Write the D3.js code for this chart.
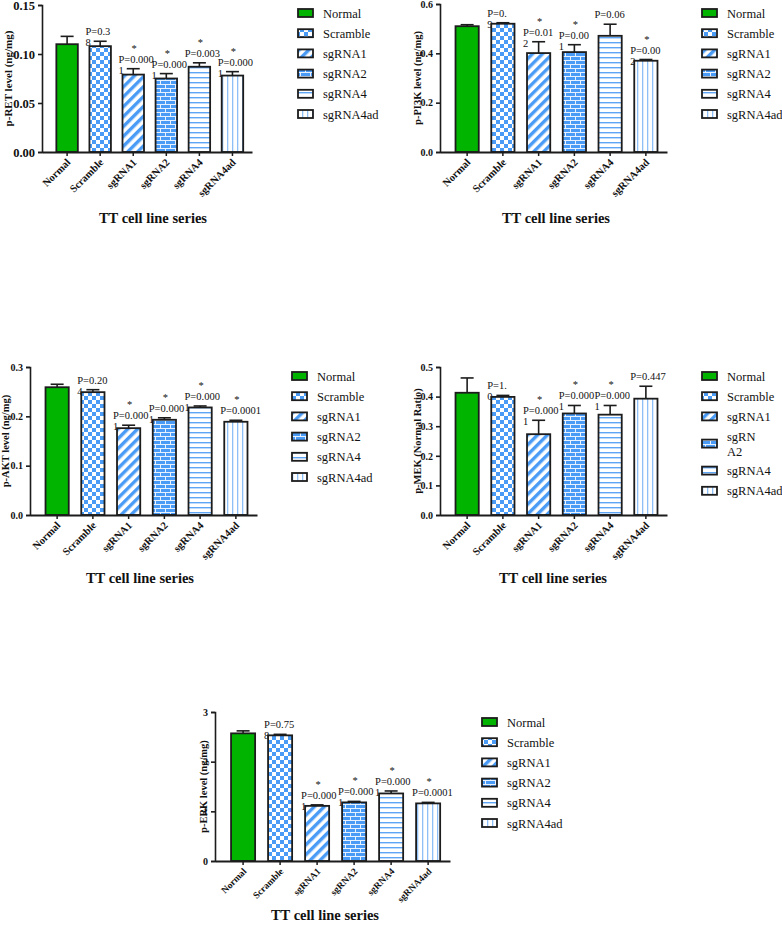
<!DOCTYPE html>
<html>
<head>
<meta charset="utf-8">
<script src="https://cdn.jsdelivr.net/npm/d3@7"></script>
<style>
  body { margin: 0; background: #fff; }
  svg { display: block; }
  svg text { font-family: "Liberation Serif", "Times New Roman", Times, serif !important; fill: #111; }
</style>
</head>
<body>
<svg id="chart" width="782" height="927" font-family="Liberation Serif, serif"></svg>
<script>
// categories shared by all five panels
const categories = ["Normal", "Scramble", "sgRNA1", "sgRNA2", "sgRNA4", "sgRNA4ad"];

// p-RET
const retValues = [0.110, 0.108, 0.079, 0.075, 0.087, 0.078];
const retErrors = [0.008, 0.005, 0.006, 0.005, 0.004, 0.004];
const retNotes = ["", "P=0.3\n8", "*\nP=0.000\n1", "*\nP=0.000\n1", "*\nP=0.003", "*\nP=0.000\n1"];
const retTicks = [0, 0.05, 0.10, 0.15];

// p-PI3K
const pi3kValues = [0.510, 0.520, 0.401, 0.405, 0.471, 0.370];
const pi3kErrors = [0.006, 0.004, 0.046, 0.030, 0.047, 0.005];
const pi3kNotes = ["", "P=0.\n9", "*\nP=0.01\n2", "*\nP=0.00\n1", "P=0.06", "*\nP=0.00\n2"];
const pi3kTicks = [0, 0.2, 0.4, 0.6];

// p-AKT
const aktValues = [0.259, 0.249, 0.176, 0.193, 0.218, 0.189];
const aktErrors = [0.006, 0.005, 0.006, 0.004, 0.003, 0.003];
const aktNotes = ["", "P=0.20\n4", "*\nP=0.000\n1", "*\nP=0.000\n1", "*\nP=0.000\n1", "*\nP=0.0001"];
const aktTicks = [0, 0.1, 0.2, 0.3];

// p-MEK
const mekValues = [0.413, 0.399, 0.273, 0.343, 0.339, 0.393];
const mekErrors = [0.050, 0.005, 0.047, 0.027, 0.031, 0.042];
const mekNotes = ["", "P=1.\n0", "*\nP=0.000\n1", "*\nP=0.000\n1", "*\nP=0.000\n1", "P=0.447"];
const mekTicks = [0, 0.1, 0.2, 0.3, 0.4, 0.5];

// p-ERK
const erkValues = [2.57, 2.53, 1.11, 1.18, 1.36, 1.16];
const erkErrors = [0.05, 0.02, 0.02, 0.02, 0.05, 0.02];
const erkNotes = ["", "P=0.75\n8", "*\nP=0.000\n1", "*\nP=0.000\n1", "*\nP=0.000\n1", "*\nP=0.0001"];
const erkTicks = [0, 1, 2, 3];

const svg = d3.select("#chart");
const defs = svg.append("defs");
const blue = "#4a9bf5";
const lightBlue = "#8ec0f7";
const serif = "Liberation Serif, Times New Roman, serif";

// fill patterns
const chk = defs.append("pattern").attr("id", "pChk").attr("patternUnits", "userSpaceOnUse")
  .attr("width", 8).attr("height", 8);
chk.append("rect").attr("width", 8).attr("height", 8).attr("fill", "#fff");
chk.append("rect").attr("width", 4).attr("height", 4).attr("fill", blue);
chk.append("rect").attr("x", 4).attr("y", 4).attr("width", 4).attr("height", 4).attr("fill", blue);

const diag = defs.append("pattern").attr("id", "pDiag").attr("patternUnits", "userSpaceOnUse")
  .attr("width", 7).attr("height", 7).attr("patternTransform", "rotate(45)");
diag.append("rect").attr("width", 7).attr("height", 7).attr("fill", "#fff");
diag.append("rect").attr("width", 3.4).attr("height", 7).attr("fill", blue);

const brick = defs.append("pattern").attr("id", "pBrick").attr("patternUnits", "userSpaceOnUse")
  .attr("width", 10).attr("height", 8);
brick.append("rect").attr("width", 10).attr("height", 8).attr("fill", blue);
brick.append("path")
  .attr("d", "M0,0.5H10M0,4.5H10M0.5,0V4.5M5.5,4.5V8")
  .attr("stroke", "#e8f2ff").attr("stroke-width", 1).attr("fill", "none");

const hor = defs.append("pattern").attr("id", "pHor").attr("patternUnits", "userSpaceOnUse")
  .attr("width", 5).attr("height", 5);
hor.append("rect").attr("width", 5).attr("height", 5).attr("fill", "#fff");
hor.append("rect").attr("y", 2).attr("width", 5).attr("height", 1.4).attr("fill", "#5ea6f5");

const ver = defs.append("pattern").attr("id", "pVer").attr("patternUnits", "userSpaceOnUse")
  .attr("width", 5).attr("height", 5);
ver.append("rect").attr("width", 5).attr("height", 5).attr("fill", "#fff");
ver.append("rect").attr("x", 2).attr("width", 1.3).attr("height", 5).attr("fill", lightBlue);

const fills = ["#00b400", "url(#pChk)", "url(#pDiag)", "url(#pBrick)", "url(#pHor)", "url(#pVer)"];
const ink = "#1c1c1c";

function drawPanel(o) {
  const g = svg.append("g").attr("font-family", serif);
  const x = d3.scaleBand().domain(categories).range([o.x0, o.x1])
    .paddingInner(0.35).paddingOuter(0.35).align(0.62);
  const y = d3.scaleLinear().domain([0, o.max]).range([o.yBottom, o.yTop]);

  // annotations (drawn first, bars may cover bits of them)
  categories.forEach((c, i) => {
    if (!o.notes[i]) return;
    const lines = o.notes[i].split("\n");
    const capY = y(o.values[i] + o.errors[i]);
    let star = false;
    if (lines[0] === "*") { star = true; lines.shift(); }
    const left = x(c) - 4;
    if (star) {
      g.append("text").attr("x", x(c) + x.bandwidth() / 2 + 1).attr("y", capY - 17)
        .attr("text-anchor", "middle").attr("font-size", 10.5).text("*");
    }
    lines.forEach((t, k) => {
      g.append("text").attr("x", left).attr("y", capY - 6 + k * 11)
        .attr("font-size", 10.5).text(t);
    });
  });

  // error bars (upper only)
  categories.forEach((c, i) => {
    const cx = x(c) + x.bandwidth() / 2;
    const top = y(o.values[i] + o.errors[i]);
    g.append("line").attr("x1", cx).attr("x2", cx).attr("y1", y(o.values[i])).attr("y2", top)
      .attr("stroke", ink).attr("stroke-width", 1.6);
    g.append("line").attr("x1", cx - 6.5).attr("x2", cx + 6.5).attr("y1", top).attr("y2", top)
      .attr("stroke", ink).attr("stroke-width", 1.6);
  });

  // bars
  g.selectAll("rect.bar").data(categories).enter().append("rect")
    .attr("class", "bar")
    .attr("x", d => x(d))
    .attr("y", (d, i) => y(o.values[i]))
    .attr("width", x.bandwidth())
    .attr("height", (d, i) => o.yBottom - y(o.values[i]))
    .attr("fill", (d, i) => fills[i])
    .attr("stroke", ink).attr("stroke-width", 1.8);

  // y axis
  const ya = g.append("g").attr("transform", `translate(${o.x0},0)`)
    .call(d3.axisLeft(y).tickValues(o.ticks).tickFormat(d3.format(o.fmt)).tickSize(4).tickPadding(3));
  ya.attr("font-family", serif);
  ya.selectAll("path,line").attr("stroke", ink).attr("stroke-width", 1.6);
  ya.selectAll("text").attr("font-weight", "bold")
    .attr("font-size", o.tickSize).attr("fill", "#111");

  // x axis
  const xa = g.append("g").attr("transform", `translate(0,${o.yBottom})`)
    .call(d3.axisBottom(x).tickSize(4).tickSizeOuter(0));
  xa.attr("font-family", serif);
  xa.select("path").attr("stroke", ink).attr("stroke-width", 1.8);
  xa.selectAll("line").attr("stroke", ink).attr("stroke-width", 1.5);
  xa.selectAll("text")
    .attr("font-weight", "bold")
    .attr("font-size", o.labelSize).attr("fill", "#111")
    .attr("text-anchor", "end").attr("dy", null).attr("y", null)
    .attr("transform", "translate(4,11) rotate(-45)");

  // axis titles
  g.append("text")
    .attr("transform", `translate(${o.yTitleX},${(o.yTop + o.yBottom) / 2}) rotate(-90)`)
    .attr("text-anchor", "middle").attr("font-weight", "bold").attr("font-size", o.yTitleSize)
    .text(o.yTitle);
  g.append("text").attr("x", o.xTitleX).attr("y", o.xTitleY)
    .attr("text-anchor", "middle").attr("font-weight", "bold").attr("font-size", 14.5)
    .text("TT cell line series");

  // legend
  let ly = o.legendY;
  categories.forEach((c, i) => {
    const label = (o.legendWrap && o.legendWrap[i]) ? o.legendWrap[i].split("\n") : [c];
    const rowH = label.length > 1 ? 34 : 20.2;
    const mid = ly + (label.length > 1 ? 7 : 0);
    g.append("rect").attr("x", o.legendX).attr("y", mid - 4).attr("width", 15).attr("height", 8)
      .attr("fill", fills[i]).attr("stroke", ink).attr("stroke-width", 1.8);
    label.forEach((t, k) => {
      g.append("text").attr("x", o.legendX + 25).attr("y", ly + 4.5 + k * 15)
        .attr("font-size", 12.5).text(t);
    });
    ly += rowH;
  });
}

drawPanel({ x0: 42, x1: 252, yTop: 5, yBottom: 152, max: 0.15, ticks: retTicks, fmt: ".2f", tickSize: 12.5,
  labelSize: 10.5, values: retValues, errors: retErrors, notes: retNotes,
  yTitle: "p-RET level (ng/mg)", yTitleX: 12, yTitleSize: 11,
  xTitleX: 153, xTitleY: 223, legendX: 298, legendY: 13 });

drawPanel({ x0: 440, x1: 667, yTop: 4, yBottom: 152, max: 0.6, ticks: pi3kTicks, fmt: ".1f", tickSize: 10,
  labelSize: 10.5, values: pi3kValues, errors: pi3kErrors, notes: pi3kNotes,
  yTitle: "p-PI3K level (ng/mg)", yTitleX: 421, yTitleSize: 10.5,
  xTitleX: 556, xTitleY: 223, legendX: 702, legendY: 13 });

drawPanel({ x0: 30, x1: 257, yTop: 367, yBottom: 515, max: 0.3, ticks: aktTicks, fmt: ".1f", tickSize: 10,
  labelSize: 10.5, values: aktValues, errors: aktErrors, notes: aktNotes,
  yTitle: "p-AKT level (ng/mg)", yTitleX: 9, yTitleSize: 10.5,
  xTitleX: 140, xTitleY: 583, legendX: 292, legendY: 376 });

drawPanel({ x0: 440, x1: 667, yTop: 367, yBottom: 515, max: 0.5, ticks: mekTicks, fmt: ".1f", tickSize: 10,
  labelSize: 10.5, values: mekValues, errors: mekErrors, notes: mekNotes,
  yTitle: "p-MEK (Normal Ratio)", yTitleX: 421, yTitleSize: 10.5,
  xTitleX: 553, xTitleY: 583, legendX: 702, legendY: 376,
  legendWrap: [null, null, null, "sgRN\nA2", null, null] });

drawPanel({ x0: 215, x1: 450, yTop: 712, yBottom: 861, max: 3, ticks: erkTicks, fmt: "d", tickSize: 10,
  labelSize: 9.5, values: erkValues, errors: erkErrors, notes: erkNotes,
  yTitle: "p-ERK level (ng/mg)", yTitleX: 207, yTitleSize: 10.5,
  xTitleX: 325, xTitleY: 920, legendX: 482, legendY: 722 });
</script>
</body>
</html>
